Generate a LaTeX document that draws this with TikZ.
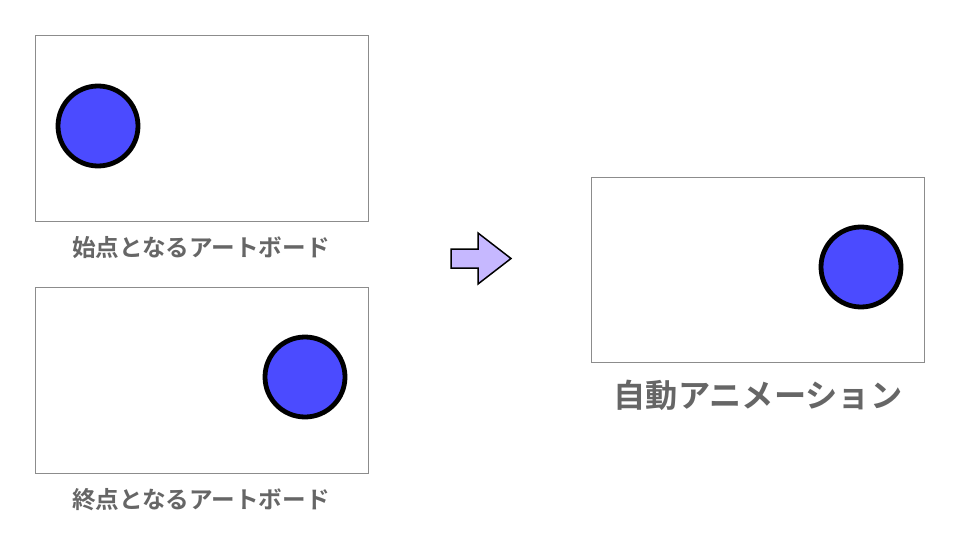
\documentclass[tikz,border=0pt]{standalone}
\usepackage{fontspec}
\newfontfamily\cjk{Noto Sans CJK JP}[BoldFont={Noto Sans CJK JP Bold}]
\usetikzlibrary{positioning}
\definecolor{ballblue}{HTML}{4B4BFF}
\definecolor{labelgray}{HTML}{666666}
\definecolor{arrowlilac}{HTML}{C6B8FF}

\begin{document}
\begin{tikzpicture}[x=1pt, y=-1pt,
    board/.style={draw=black!45, line width=0.9pt},
    ball/.style={circle, draw=black, fill=ballblue, line width=4.8pt, minimum size=80pt, inner sep=0pt},
    caption/.style={text=labelgray, font=\cjk\bfseries\fontsize{23.6}{28}\selectfont}]
    \useasboundingbox (0,0) rectangle (960,540);

    % Draw the two artboards on the left
    \draw[board] (35,35) rectangle (368,221);
    \node[ball] (start) at (98,126) {};
    \node[caption] (startlabel) at (201,248) {始点となるアートボード};

    \draw[board] (35,287) rectangle (368,473);
    \node[ball] (end) at (305,377) {};
    \node[caption] (endlabel) at (201,500) {終点となるアートボード};

    % Draw the arrow
    \draw[fill=arrowlilac, line width=1.5pt, line join=miter]
        (451,249) -- (478,249) -- (478,233) -- (511,258.5) -- (478,284)
        -- (478,268) -- (451,268) -- cycle;

    % Draw the result on the right
    \draw[board] (591,177) rectangle (924,362);
    \node[ball] (auto) at (861,267) {};
    \node[caption, font=\cjk\bfseries\fontsize{32.2}{38}\selectfont] (autolabel) at (758,395) {自動アニメーション};
\end{tikzpicture}
\end{document}
